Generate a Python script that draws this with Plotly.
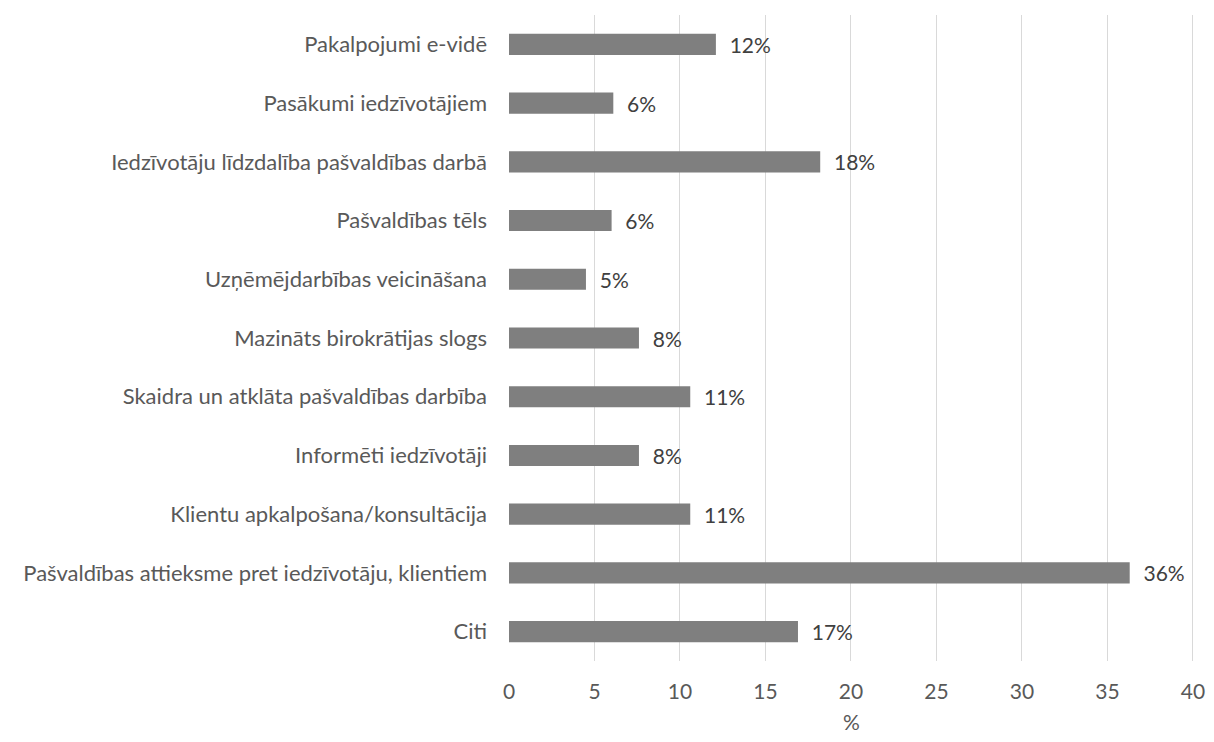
import plotly.graph_objects as go

# kategorijas (no augšas uz leju) un vērtības, %
kategorijas = [
    "Pakalpojumi e-vidē",
    "Pasākumi iedzīvotājiem",
    "Iedzīvotāju līdzdalība pašvaldības darbā",
    "Pašvaldības tēls",
    "Uzņēmējdarbības veicināšana",
    "Mazināts birokrātijas slogs",
    "Skaidra un atklāta pašvaldības darbība",
    "Informēti iedzīvotāji",
    "Klientu apkalpošana/konsultācija",
    "Pašvaldības attieksme pret iedzīvotāju, klientiem",
    "Citi",
]
vertibas = [12.1, 6.1, 18.2, 6.0, 4.5, 7.6, 10.6, 7.6, 10.6, 36.3, 16.9]
x_ticks = [0, 5, 10, 15, 20, 25, 30, 35, 40]

FONT = "Lato, Carlito, Calibri, sans-serif"
FS = 21

fig = go.Figure(
    go.Bar(
        x=vertibas,
        y=kategorijas,
        orientation="h",
        marker=dict(color="#7f7f7f", line=dict(width=0)),
        texttemplate="\u00a0\u00a0%{x:.0f}%",
        textposition="outside",
        constraintext="none",
        cliponaxis=False,
        textfont=dict(family=FONT, size=FS, color="#404040"),
    )
)

# lapai ir 8px body atkāpe, tāpēc attēls ir mazāks un robežas nobīdītas
fig.update_layout(
    width=1198,
    height=726,
    paper_bgcolor="white",
    plot_bgcolor="white",
    margin=dict(l=501, r=12, t=7, b=73),
    bargap=0.64,
    showlegend=False,
    font=dict(family=FONT, size=FS, color="#595959"),
)

fig.update_xaxes(
    range=[0, 40.06],  # nedaudz virs 40, lai redzama arī pēdējā režģa līnija
    tickvals=x_ticks,
    showgrid=True,
    gridcolor="#d9d9d9",
    gridwidth=1,
    zeroline=False,
    showline=False,
    ticks="",
    automargin=False,
    ticklabeloverflow="allow",
    ticklabelstandoff=16,
    tickfont=dict(size=FS, color="#595959"),
    title=dict(text="%", font=dict(size=FS, color="#595959"), standoff=21),
)

fig.update_yaxes(
    autorange="reversed",
    showgrid=False,
    showline=False,
    ticks="",
    automargin=False,
    ticklabelstandoff=21,
    tickfont=dict(size=22, color="#595959"),
)

fig.write_html("out.html")
